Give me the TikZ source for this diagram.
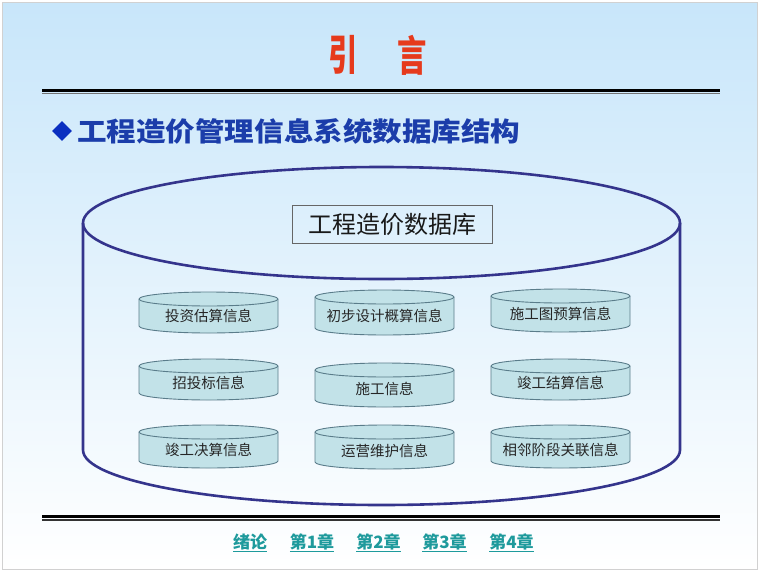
\documentclass[tikz,border=0pt]{standalone}
\usepackage{fontspec}
\usepackage{graphicx}
\usetikzlibrary{shapes.geometric}
\newfontfamily\cjk{Noto Sans CJK SC}
\definecolor{titlered}{HTML}{E63A1C}
\definecolor{headblue}{HTML}{1B3DAA}
\definecolor{diamblue}{HTML}{0A2FC0}
\definecolor{bigline}{HTML}{34348C}
\definecolor{cylfill}{HTML}{C2E2E8}
\definecolor{cylline}{HTML}{5A7C8A}
\definecolor{footteal}{HTML}{1E9A9C}
\definecolor{bgtop}{HTML}{C8E6FA}
\tikzset{
  cylbody/.style={fill=cylfill, draw=cylline, line width=0.9pt},
  cylline/.style={draw=cylline, line width=0.9pt},
  cyltext/.style={inner sep=0pt, font=\cjk\fontsize{14.5}{16}\selectfont, text=black!85},
  bigcyl/.style={draw=bigline, line width=2.6pt},
  foot/.style={inner sep=0pt, text=footteal, font=\cjk\bfseries\fontsize{17}{20}\selectfont},
  titlechar/.style={inner sep=0pt, text=titlered, font=\cjk\bfseries\fontsize{42}{46}\selectfont},
}
\newcommand\smallcyl[5]{%
  \path[cylbody] ({#2-69.5},{#3+7}) arc[start angle=180,end angle=360,x radius=69.5,y radius=7]
     -- ({#2+69.5},{#4-7}) arc[start angle=0,end angle=180,x radius=69.5,y radius=7] -- cycle;
  \draw[cylline] ({#2-69.5},{#3+7}) arc[start angle=180,end angle=0,x radius=69.5,y radius=7];
  \node[cyltext] (#1) at (#2,{(#3+#4)/2+3.5}) {#5};
}
\begin{document}
\begin{tikzpicture}[x=1pt,y=-1pt]
\useasboundingbox (0,0) rectangle (760,573);
\fill[white] (0,0) rectangle (760,573);
\shade[top color=bgtop, bottom color=white] (2.5,2.5) rectangle (757.5,569.5);
\draw[black!18, line width=1pt] (2.5,2.5) rectangle (757.5,569.5);

% title
\node[titlechar] (t1) at (343,55) {\scalebox{0.7}[1]{引}};
\node[titlechar] (t2) at (412,55) {\scalebox{0.7}[1]{言}};

% top rule
\draw[black, line width=3pt] (42,90) -- (720,90);
\draw[black!55, line width=1pt] (42,93.2) -- (720,93.2);

% heading
\node[diamond, fill=diamblue, inner sep=0pt, minimum width=20pt, minimum height=20pt] (dia) at (62,131) {};
\node[anchor=west, inner sep=0pt, text=headblue, font=\cjk\bfseries\fontsize{26.5}{30}\selectfont] (head) at (77,131) {\scalebox{1.115}[1]{工程造价管理信息系统数据库结构}};

% big cylinder
\draw[bigcyl] (381.5,223) ellipse[x radius=298.5, y radius=56];
\draw[bigcyl] (83,223) -- (83,450) arc[start angle=180,end angle=0,x radius=298.5,y radius=55] -- (680,223);

\node[draw=black!60, line width=0.8pt, minimum width=200pt, minimum height=38pt, inner sep=0pt,
      font=\cjk\fontsize{24}{28}\selectfont, text=black!90] (dbt) at (392,224) {工程造价数据库};

% small cylinders
\smallcyl{c11}{208.5}{292}{333}{投资估算信息}
\smallcyl{c12}{384.5}{290}{335}{初步设计概算信息}
\smallcyl{c13}{560.5}{289}{332}{施工图预算信息}
\smallcyl{c21}{208.5}{359}{400}{招投标信息}
\smallcyl{c22}{384.5}{363}{407}{施工信息}
\smallcyl{c23}{560.5}{359}{400}{竣工结算信息}
\smallcyl{c31}{208.5}{425}{468}{竣工决算信息}
\smallcyl{c32}{384.5}{425}{469}{运营维护信息}
\smallcyl{c33}{560.5}{425}{468}{相邻阶段关联信息}

% bottom rule
\draw[black, line width=2.6pt] (42,516.5) -- (720,516.5);
\draw[black!80, line width=1.2pt] (42,520) -- (720,520);

% footer
\node[foot] (f0) at (250,543) {\underline{绪论}};
\node[foot] (f1) at (312,543) {\underline{第1章}};
\node[foot] (f2) at (378.5,543) {\underline{第2章}};
\node[foot] (f3) at (444.5,543) {\underline{第3章}};
\node[foot] (f4) at (511.5,543) {\underline{第4章}};
\end{tikzpicture}
\end{document}
